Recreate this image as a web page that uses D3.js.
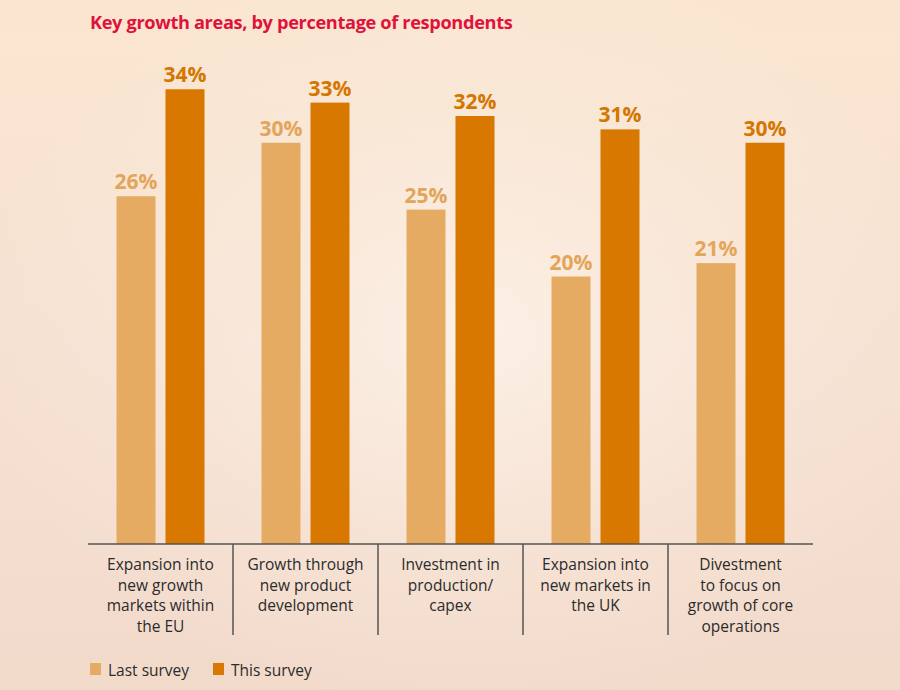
<!DOCTYPE html>
<html>
<head>
<meta charset="utf-8">
<script src="https://cdn.jsdelivr.net/npm/d3@7"></script>
<style>
html,body{margin:0;padding:0;background:#F5E0D0;}
svg{display:block;}
</style>
</head>
<body>
<svg id="chart" width="900" height="690"></svg>
<script>
const categories = [
  ["Expansion into","new growth","markets within","the EU"],
  ["Growth through","new product","development"],
  ["Investment in","production/","capex"],
  ["Expansion into","new markets in","the UK"],
  ["Divestment","to focus on","growth of core","operations"]
];
const seriesNames = ["Last survey","This survey"];
const lastSurvey = [26, 30, 25, 20, 21];
const thisSurvey = [34, 33, 32, 31, 30];
const titleText = "Key growth areas, by percentage of respondents";

const colors = {"Last survey":"#E5AB62","This survey":"#D87800"};
const labelColors = {"Last survey":"#E3A55A","This survey":"#D47600"};

const svg = d3.select("#chart");
const W = 900, H = 690;

const defs = svg.append("defs");
const lg = defs.append("linearGradient").attr("id","bgLin").attr("x1",0).attr("y1",0).attr("x2",0).attr("y2",1);
lg.append("stop").attr("offset","0%").attr("stop-color","#FAE6D0");
lg.append("stop").attr("offset","50%").attr("stop-color","#F6E1D2");
lg.append("stop").attr("offset","100%").attr("stop-color","#F2DACB");
const rg = defs.append("radialGradient").attr("id","bgRad").attr("cx","52%").attr("cy","48%").attr("r","55%");
rg.append("stop").attr("offset","0%").attr("stop-color","#FCF1E6").attr("stop-opacity",0.9);
rg.append("stop").attr("offset","60%").attr("stop-color","#FCF1E6").attr("stop-opacity",0.25);
rg.append("stop").attr("offset","100%").attr("stop-color","#FCF1E6").attr("stop-opacity",0);
svg.append("rect").attr("width",W).attr("height",H).attr("fill","url(#bgLin)");
svg.append("rect").attr("width",W).attr("height",H).attr("fill","url(#bgRad)");

const font = "'Open Sans', 'Noto Sans', sans-serif";

svg.append("text").attr("x",90).attr("y",29)
  .attr("font-family",font).attr("font-weight",700).attr("font-size",18.2)
  .attr("letter-spacing",-0.35)
  .attr("fill","#E0123C").text(titleText);

const x0 = d3.scaleBand().domain(d3.range(categories.length)).range([88, 813]).paddingInner(0).paddingOuter(0);
const x1 = d3.scaleBand().domain(seriesNames).range([x0.bandwidth()/2 - 44, x0.bandwidth()/2 + 44]).paddingInner(10/49).paddingOuter(0);
const y = d3.scaleLinear().domain([0, 40]).range([544, 9]);

const data = categories.map((c,i)=>({i, values:[
  {s:"Last survey", v:lastSurvey[i]},
  {s:"This survey", v:thisSurvey[i]}
]}));

const groups = svg.selectAll("g.grp").data(data).enter().append("g")
  .attr("transform", d=>`translate(${x0(d.i)},0)`);

groups.selectAll("rect").data(d=>d.values).enter().append("rect")
  .attr("x", d=>x1(d.s)).attr("width", x1.bandwidth())
  .attr("y", d=>y(d.v)).attr("height", d=>y(0)-y(d.v))
  .attr("fill", d=>colors[d.s]);

groups.selectAll("text.val").data(d=>d.values).enter().append("text")
  .attr("class","val")
  .attr("x", d=>x1(d.s)+x1.bandwidth()/2).attr("y", d=>y(d.v)-7)
  .attr("text-anchor","middle")
  .attr("font-family",font).attr("font-weight",700).attr("font-size",21)
  .attr("fill", d=>labelColors[d.s]).text(d=>d.v+"%");

// axis baseline
svg.append("line").attr("x1",x0.range()[0]).attr("x2",x0.range()[1])
  .attr("y1",y(0)).attr("y2",y(0)).attr("stroke","#555").attr("stroke-width",1.5);

// separators
d3.range(1, categories.length).forEach(i=>{
  svg.append("line").attr("x1",x0(i)).attr("x2",x0(i))
    .attr("y1",y(0)).attr("y2",635).attr("stroke","#555").attr("stroke-width",1.5);
});

// category labels
groups.each(function(d){
  const t = d3.select(this).append("text")
    .attr("x", x0.bandwidth()/2).attr("y", 570)
    .attr("text-anchor","middle")
    .attr("font-family",font).attr("font-size",15.5).attr("fill","#2B2B2B");
  categories[d.i].forEach((line,k)=>{
    t.append("tspan").attr("x", x0.bandwidth()/2).attr("y", 570 + k*20.7).text(line);
  });
});

// legend
const legX = [90, 213];
seriesNames.forEach((s,i)=>{
  svg.append("rect").attr("x",legX[i]).attr("y",663).attr("width",11).attr("height",12).attr("fill",colors[s]);
  svg.append("text").attr("x",legX[i]+18).attr("y",676)
    .attr("font-family",font).attr("font-size",15.5).attr("fill","#2B2B2B").text(s);
});
</script>
</body>
</html>
